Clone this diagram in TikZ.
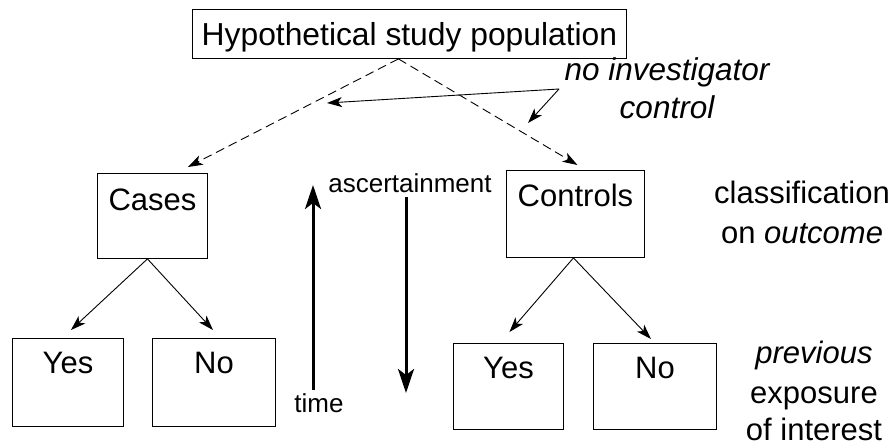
\documentclass[tikz,border=0pt]{standalone}
\usepackage{fontspec}
\setmainfont{Liberation Sans}
\usetikzlibrary{arrows.meta}

\begin{document}
\begin{tikzpicture}[x=1pt,y=-1pt,
  big/.style={font=\fontsize{31}{37}\selectfont},
  small/.style={font=\fontsize{26}{31}\selectfont},
  box/.style={draw, line width=0.9pt, big, inner sep=0pt, anchor=north west},
  thin/.style={line width=0.9pt, -{Stealth[length=15pt,width=10pt,inset=4pt]}},
  dashconn/.style={thin, dash pattern=on 9pt off 5pt},
  thick/.style={line width=3pt, -{Stealth[length=24pt,width=16pt,inset=6pt]}},
  lbl/.style={big, anchor=base, inner sep=0pt},
]
  % canvas
  \path[fill=white] (0,0) rectangle (896,447);
  \useasboundingbox (0,0) rectangle (896,447);

  % boxes
  \node[box, minimum width=434pt, text height=36pt, text depth=13pt,
        font=\fontsize{31.8}{37}\selectfont] (pop) at (192,9) {Hypothetical study population};
  \node[box, minimum width=110pt, text height=37pt, text depth=48pt] (cases) at (97,173) {Cases};
  \node[box, minimum width=138pt, text height=36pt, text depth=51pt] (controls) at (506,170) {Controls};
  \node[box, minimum width=111pt, text height=35pt, text depth=53pt] (yes1) at (12,338) {Yes};
  \node[box, minimum width=123pt, text height=35pt, text depth=53pt] (no1) at (152,338) {No};
  \node[box, minimum width=110pt, text height=35pt, text depth=51pt] (yes2) at (453,343) {Yes};
  \node[box, minimum width=123pt, text height=35pt, text depth=51pt] (no2) at (593,343) {No};

  % side labels
  \node[lbl, font=\fontsize{31.5}{37}\selectfont\itshape] (noinv) at (667,80) {no investigator};
  \node[lbl, font=\fontsize{31.5}{37}\selectfont\itshape] (ctrl) at (667,118) {control};
  \node[lbl] (classif) at (802,203) {classification};
  \node[lbl] (onout) at (802,243) {on \textit{outcome}};
  \node[lbl] (prev) at (814,363) {\textit{previous}};
  \node[lbl] (expo) at (814,403) {exposure};
  \node[lbl] (inter) at (814,440) {of interest};
  \node[small, anchor=base, inner sep=0pt] (asc) at (410,192) {ascertainment};
  \node[small, anchor=base, inner sep=0pt] (time) at (319,412) {time};

  % sampling without investigator control
  \draw[dashconn] ([xshift=-11pt]pop.south) -- ([xshift=-20pt,yshift=6pt]cases.north east);
  \draw[dashconn] ([xshift=-11pt]pop.south) -- ([xshift=2pt,yshift=5pt]controls.north);

  \coordinate (nic) at (559,89);
  \coordinate (nicA) at (327,103);
  \coordinate (nicB) at (528,123);
  \draw[thin] (nic) -- (nicA);
  \draw[thin] (nic) -- (nicB);

  % exposure branches
  \draw[thin] ([xshift=-5pt]cases.south) -- ([xshift=3pt,yshift=8pt]yes1.north);
  \draw[thin] ([xshift=-5pt]cases.south) -- ([xshift=-1pt,yshift=8pt]no1.north);
  \draw[thin] ([xshift=-2pt]controls.south) -- ([xshift=1pt,yshift=11pt]yes2.north);
  \draw[thin] ([xshift=-2pt]controls.south) -- ([xshift=-4pt,yshift=4pt]no2.north);

  % time and ascertainment directions
  \coordinate (tA) at (313,390);
  \coordinate (tB) at (313,185);
  \coordinate (aA) at (406,197);
  \coordinate (aB) at (406,393);
  \draw[thick] (tA) -- (tB);
  \draw[thick] (aA) -- (aB);
\end{tikzpicture}
\end{document}
